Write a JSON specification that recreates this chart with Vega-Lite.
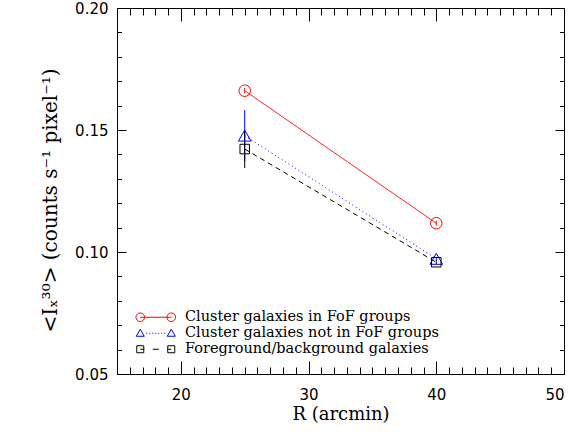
{
  "$schema": "https://vega.github.io/schema/vega-lite/v6.json",
  "width": 447,
  "height": 366,
  "autosize": "none",
  "padding": {"left": 117, "top": 8, "right": 17, "bottom": 63},
  "background": "white",
  "config": {
    "view": {"stroke": "black", "strokeWidth": 1},
    "axis": {
      "grid": false,
      "domain": false,
      "ticks": true,
      "tickColor": "black",
      "tickWidth": 1,
      "labelColor": "black",
      "titleColor": "black",
      "labelFont": "DejaVu Sans",
      "labelFontSize": 15,
      "titleFont": "DejaVu Serif",
      "titleFontSize": 18,
      "titleFontWeight": "normal"
    }
  },
  "data": {
    "values": [
      {"series": "Cluster galaxies in FoF groups", "R": 25, "I": 0.1661, "lo": 0.1650, "hi": 0.1672},
      {"series": "Cluster galaxies in FoF groups", "R": 40, "I": 0.1118, "lo": 0.1108, "hi": 0.1128},
      {"series": "Cluster galaxies not in FoF groups", "R": 25, "I": 0.1477, "lo": 0.1372, "hi": 0.1582},
      {"series": "Cluster galaxies not in FoF groups", "R": 40, "I": 0.0972, "lo": 0.0964, "hi": 0.0980},
      {"series": "Foreground/background galaxies", "R": 25, "I": 0.1422, "lo": 0.1344, "hi": 0.1500},
      {"series": "Foreground/background galaxies", "R": 40, "I": 0.0958, "lo": 0.0950, "hi": 0.0966}
    ]
  },
  "resolve": {"axis": {"x": "independent", "y": "independent"}},
  "layer": [
    {
      "mark": {"type": "line", "strokeWidth": 1},
      "encoding": {
        "x": {
          "field": "R", "type": "quantitative",
          "scale": {"domain": [15, 50], "nice": false, "zero": false},
          "axis": {"orient": "bottom", "values": [20, 30, 40, 50], "offset": -13, "tickSize": 13, "labelPadding": 13, "title": "R (arcmin)", "titlePadding": 3}
        },
        "y": {
          "field": "I", "type": "quantitative",
          "scale": {"domain": [0.05, 0.20], "nice": false, "zero": false},
          "axis": {"orient": "left", "values": [0.05, 0.10, 0.15, 0.20], "format": ".2f", "offset": -9, "tickSize": 9, "labelPadding": 9, "title": "<I\u2093\u00b3\u2070> (counts s\u207b\u00b9 pixel\u207b\u00b9)", "titlePadding": 14, "titleFontSize": 20, "titleY": 192}
        },
        "stroke": {
          "field": "series", "type": "nominal",
          "scale": {"domain": ["Cluster galaxies in FoF groups", "Cluster galaxies not in FoF groups", "Foreground/background galaxies"], "range": ["#ff0000", "#0000ff", "#000000"]},
          "legend": null
        },
        "strokeDash": {
          "field": "series", "type": "nominal",
          "scale": {"domain": ["Cluster galaxies in FoF groups", "Cluster galaxies not in FoF groups", "Foreground/background galaxies"], "range": [[1, 0], [1, 3], [5, 4]]},
          "legend": null
        }
      }
    },
    {
      "mark": {"type": "rule", "strokeWidth": 1},
      "encoding": {
        "x": {"field": "R", "type": "quantitative", "axis": {"orient": "bottom", "values": [15,16,17,18,19,20,21,22,23,24,25,26,27,28,29,30,31,32,33,34,35,36,37,38,39,40,41,42,43,44,45,46,47,48,49,50], "offset": -7, "tickSize": 7, "labels": false, "title": null}},
        "y": {"field": "lo", "type": "quantitative", "axis": {"orient": "left", "values": [0.05,0.06,0.07,0.08,0.09,0.10,0.11,0.12,0.13,0.14,0.15,0.16,0.17,0.18,0.19,0.20], "offset": -4.5, "tickSize": 4.5, "labels": false, "title": null}},
        "y2": {"field": "hi"},
        "stroke": {"field": "series", "type": "nominal", "legend": null}
      }
    },
    {
      "transform": [{"filter": "datum.series === 'Cluster galaxies in FoF groups'"}],
      "mark": {"type": "point", "shape": "circle", "size": 133, "filled": false, "opacity": 1, "strokeWidth": 1, "color": "#ff0000"},
      "encoding": {
        "x": {"field": "R", "type": "quantitative", "axis": {"orient": "top", "values": [20, 30, 40, 50], "offset": -13, "tickSize": 13, "labels": false, "title": null}},
        "y": {"field": "I", "type": "quantitative", "axis": {"orient": "right", "values": [0.05, 0.10, 0.15, 0.20], "offset": -9, "tickSize": 9, "labels": false, "title": null}}
      }
    },
    {
      "transform": [{"filter": "datum.series === 'Cluster galaxies not in FoF groups'"}],
      "mark": {"type": "point", "shape": "triangle-up", "size": 160, "filled": false, "opacity": 1, "strokeWidth": 1, "color": "#0000ff"},
      "encoding": {
        "x": {"field": "R", "type": "quantitative", "axis": null},
        "y": {"field": "I", "type": "quantitative", "axis": null}
      }
    },
    {
      "transform": [{"filter": "datum.series === 'Foreground/background galaxies'"}],
      "mark": {"type": "point", "shape": "square", "size": 90, "filled": false, "opacity": 1, "strokeWidth": 1, "color": "#000000"},
      "encoding": {
        "x": {"field": "R", "type": "quantitative", "axis": null},
        "y": {"field": "I", "type": "quantitative", "axis": null}
      }
    },
    {
      "mark": {"type": "point", "opacity": 0, "filled": false},
      "encoding": {
        "x": {"field": "R", "type": "quantitative", "axis": {"orient": "top", "values": [15,16,17,18,19,20,21,22,23,24,25,26,27,28,29,30,31,32,33,34,35,36,37,38,39,40,41,42,43,44,45,46,47,48,49,50], "offset": -7, "tickSize": 7, "labels": false, "title": null}},
        "y": {"field": "I", "type": "quantitative", "axis": {"orient": "right", "values": [0.05,0.06,0.07,0.08,0.09,0.10,0.11,0.12,0.13,0.14,0.15,0.16,0.17,0.18,0.19,0.20], "offset": -4.5, "tickSize": 4.5, "labels": false, "title": null}},
        "color": {
          "field": "series", "type": "nominal",
          "scale": {"range": ["#ff0000", "#0000ff", "#000000"]},
          "legend": {
            "orient": "none", "legendX": 0, "legendY": 302, "title": null, "padding": 0, "symbolSize": 4, "symbolStrokeWidth": 1, "symbolOpacity": 1, "symbolFillColor": "transparent", "symbolOffset": 31.5, "labelOffset": 22, "labelFont": "DejaVu Serif", "labelFontSize": 14.5, "labelColor": "black", "labelLimit": 400, "rowPadding": 1
          }
        },
        "shape": {
          "field": "series", "type": "nominal",
          "scale": {"range": [
            "M-11.2,0A4.3,4.3 0 1,1 -19.8,0A4.3,4.3 0 1,1 -11.2,0M19.8,0A4.3,4.3 0 1,1 11.2,0A4.3,4.3 0 1,1 19.8,0M-15.5,0H15.5",
            "M-15.5,-4L-19.5,3L-11.5,3ZM15.5,-4L11.5,3L19.5,3ZM-9.5,0h1M-6.5,0h1M-3.5,0h1M-0.5,0h1M2.5,0h1M5.5,0h1M8.5,0h1",
            "M-19,-3.5h7v7h-7ZM12,-3.5h7v7h-7ZM-15.5,0h4M-3,0h6M11.5,0h4"
          ]}
        }
      }
    }
  ]
}
